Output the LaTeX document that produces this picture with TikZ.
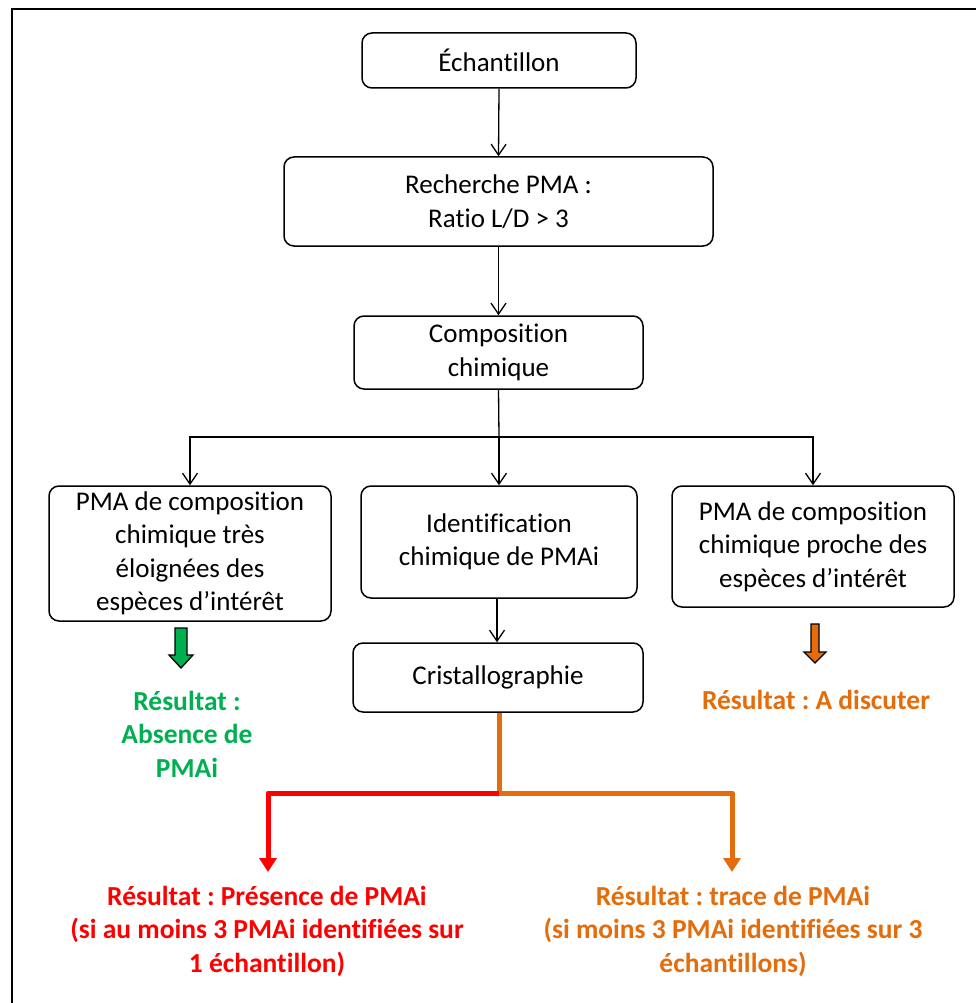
\documentclass[tikz,border=0pt]{standalone}
\usepackage{fontspec}
\setmainfont{Carlito}[Ligatures=CommonOff]
\frenchspacing
\usetikzlibrary{arrows.meta}
\definecolor{resgreen}{RGB}{0,176,80}
\definecolor{resorange}{RGB}{228,108,10}
\definecolor{resred}{RGB}{255,0,0}
\begin{document}
\begin{tikzpicture}[x=1pt,y=-1pt,
  font=\fontsize{27}{33.5}\selectfont,
  box/.style={draw, line width=1.5pt, rounded corners=10pt, align=center, inner sep=0pt},
  link/.style={line width=1.3pt, -{Straight Barb[length=11pt,width=15pt,line width=1.3pt]}},
  plain/.style={line width=1.3pt},
  thick5/.style={line width=5pt, line join=round},
  redlink/.style={thick5, draw=resred, -{Triangle[length=14pt,width=17pt]}},
  oranlink/.style={thick5, draw=resorange, -{Triangle[length=14pt,width=17pt]}},
  result/.style={font=\fontsize{27.5}{33.5}\selectfont\bfseries, align=center, inner sep=0pt},
  blockarrow/.style={draw=black, line width=1.3pt, line join=miter}
]
\useasboundingbox (0,0) rectangle (976,1003);

% outer frame (top and left edges)
\draw[line width=2pt] (12,1003) -- (12,9) -- (976,9);

% process boxes
\node[box, minimum width=274pt, minimum height=55pt] (ech) at (499,60.5) {Échantillon};
\node[box, minimum width=429pt, minimum height=89pt] (rech) at (498.5,201.5) {Recherche PMA :\\Ratio L/D > 3};
\node[box, minimum width=289pt, minimum height=73pt] (comp) at (498.5,352.5) {Composition\\chimique};
\node[box, minimum width=282pt, minimum height=135pt] (left) at (190,553.5) {PMA de composition\\chimique très\\éloignées des\\espèces d’intérêt};
\node[box, minimum width=276pt, minimum height=112pt] (mid) at (499,542) {Identification\\chimique de PMAi};
\node[box, minimum width=282pt, minimum height=121pt] (right) at (813,546.5) {PMA de composition\\chimique proche des\\espèces d’intérêt};
\node[box, minimum width=290pt, minimum height=69pt] (cris) at (498,677.5) {Cristallographie};

% result texts
\node[result, text=resgreen] (absence) at (187,734) {Résultat :\\Absence de\\PMAi};
\node[result, text=resorange] (discuter) at (816,700) {Résultat : A discuter};
\node[result, text=resred] (presence) at (267,931) {Résultat : Présence de PMAi\\(si au moins 3 PMAi identifiées sur\\1 échantillon)};
\node[result, text=resorange] (trace) at (733,931) {Résultat : trace de PMAi\\(si moins 3 PMAi identifiées sur 3\\échantillons)};

% black connectors
\draw[link] (ech.south) -- (rech.north);
\draw[link] (rech.south) -- (comp.north);
\coordinate (split) at (499,437);
\draw[plain] (comp.south) -- (split);
\draw[link] (split) -| (left.north);
\draw[link] (split) -- (mid.north);
\draw[link] (split) -| (right.north);
\draw[link] ([xshift=-2pt]mid.south) -- ([xshift=-1pt]cris.north);

% coloured branches below the crystallography box
\coordinate (fork) at (499,793);
\coordinate (redtip) at (268,872);
\coordinate (orantip) at (732,872);
\draw[thick5, draw=resorange] ([xshift=1pt]cris.south) -- (fork);
\draw[redlink] (fork) -| (redtip);
\draw[oranlink] (fork) -| (orantip);

% block arrows towards the side results
\draw[blockarrow, fill=resgreen] (175,628) -- (187,628) -- (187,655) -- (193,655) -- (181,668) -- (169,655) -- (175,655) -- cycle;
\draw[blockarrow, fill=resorange] (811,624) -- (819,624) -- (819,652) -- (826,652) -- (815,663) -- (804,652) -- (811,652) -- cycle;
\end{tikzpicture}
\end{document}
